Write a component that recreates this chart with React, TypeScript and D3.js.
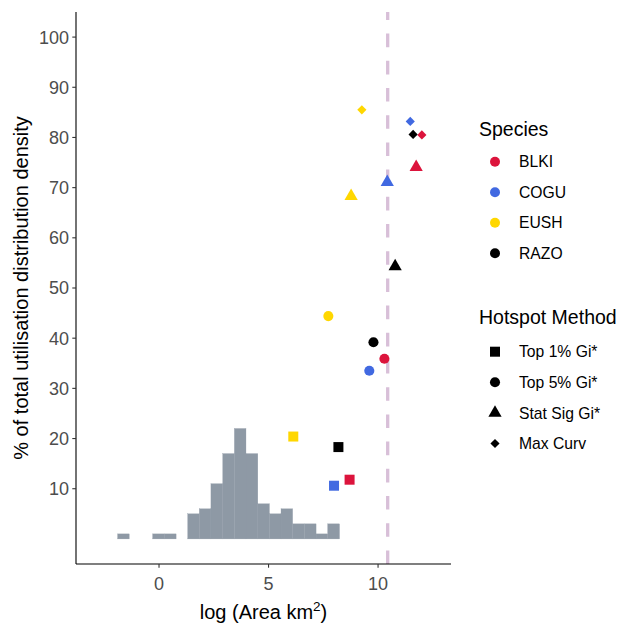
import React from "react";
import * as d3 from "d3";

// ---- data ----
const species = ["BLKI", "COGU", "EUSH", "RAZO"];
const methods = ["Top 1% Gi*", "Top 5% Gi*", "Stat Sig Gi*", "Max Curv"];

// per method, values in species order (BLKI, COGU, EUSH, RAZO)
const top1LogArea = [8.7, 7.99, 6.13, 8.19];
const top1Pct = [11.8, 10.6, 20.4, 18.3];
const top5LogArea = [10.29, 9.6, 7.73, 9.79];
const top5Pct = [35.9, 33.5, 44.4, 39.2];
const statSigLogArea = [11.74, 10.42, 8.77, 10.78];
const statSigPct = [74.1, 71.1, 68.3, 54.3];
const maxCurvLogArea = [12.0, 11.47, 9.26, 11.6];
const maxCurvPct = [80.5, 83.2, 85.5, 80.6];

const thresholdLogArea = 10.44;

// histogram of log(area) – bin edges and counts
const histEdges = [-1.89, -1.36, -0.82, -0.29, 0.24, 0.78, 1.31, 1.84, 2.37, 2.91, 3.44, 3.97, 4.51, 5.04, 5.57, 6.1, 6.64, 7.17, 7.7, 8.24];
const histCounts = [1, 0, 0, 1, 1, 0, 5, 6, 11, 17, 22, 17, 7, 5, 6, 3, 3, 1, 3];

const xTicks = [0, 5, 10];
const yTicks = [10, 20, 30, 40, 50, 60, 70, 80, 90, 100];

// ---- styles ----
const speciesColor: Record<string, string> = {
  BLKI: "#DC143C",
  COGU: "#4169E1",
  EUSH: "#FFD700",
  RAZO: "#000000",
};

const W = 621;
const H = 626;
const left = 76;
const right = 451;
const top = 12;
const bottom = 564;

const x = d3.scaleLinear().domain([-3.79, 13.33]).range([left, right]);
const y = d3.scaleLinear().domain([-5, 105]).range([bottom, top]);

const symbolPath: Record<string, string> = {
  "Top 1% Gi*": d3.symbol().type(d3.symbolSquare).size(100)()!,
  "Top 5% Gi*": d3.symbol().type(d3.symbolCircle).size(80)()!,
  "Stat Sig Gi*": d3.symbol().type(d3.symbolTriangle).size(76)()!,
  "Max Curv": d3.symbol().type(d3.symbolSquare).size(42)()!,
};
const symbolRot: Record<string, number> = {
  "Top 1% Gi*": 0,
  "Top 5% Gi*": 0,
  "Stat Sig Gi*": 0,
  "Max Curv": 45,
};

const methodData: Record<string, [number[], number[]]> = {
  "Top 1% Gi*": [top1LogArea, top1Pct],
  "Top 5% Gi*": [top5LogArea, top5Pct],
  "Stat Sig Gi*": [statSigLogArea, statSigPct],
  "Max Curv": [maxCurvLogArea, maxCurvPct],
};

const font = "'Liberation Sans', Arial, sans-serif";

export default function App() {
  const points: { sp: string; m: string; a: number; p: number }[] = [];
  methods.forEach((m) => {
    const [areas, pcts] = methodData[m];
    species.forEach((sp, i) => points.push({ sp, m, a: areas[i], p: pcts[i] }));
  });

  return (
    <svg
      width={W}
      height={H}
      style={{ position: "absolute", left: 0, top: 0, background: "#fff" }}
      fontFamily={font}
    >
      <rect x={0} y={0} width={W} height={H} fill="#fff" />
      {/* histogram */}
      <g>
        {histCounts.map((c, i) =>
          c > 0 ? (
            <rect
              key={i}
              x={x(histEdges[i])}
              y={y(c)}
              width={x(histEdges[i + 1]) - x(histEdges[i])}
              height={y(0) - y(c)}
              fill="#8E99A5"
              stroke="#8E99A5"
              strokeWidth={0.3}
            />
          ) : null
        )}
      </g>
      {/* threshold line */}
      <line
        x1={x(thresholdLogArea)}
        x2={x(thresholdLogArea)}
        y1={bottom}
        y2={top}
        stroke="#D8BFD8"
        strokeWidth={3.3}
        strokeDasharray="13.6 13.6"
      />
      {/* points */}
      <g>
        {points.map((d, i) => (
          <path
            key={i}
            d={symbolPath[d.m]}
            transform={`translate(${x(d.a)},${y(d.p)}) rotate(${symbolRot[d.m]})`}
            fill={speciesColor[d.sp]}
          />
        ))}
      </g>
      {/* axes */}
      <line x1={left} x2={left} y1={top} y2={bottom} stroke="#000" strokeWidth={1.1} />
      <line x1={left} x2={right} y1={bottom} y2={bottom} stroke="#000" strokeWidth={1.1} />
      {yTicks.map((t) => (
        <g key={t}>
          <line x1={left - 3.7} x2={left} y1={y(t)} y2={y(t)} stroke="#333" strokeWidth={1.1} />
          <text x={left - 7} y={y(t)} dy="0.36em" textAnchor="end" fontSize={18} fill="#4D4D4D">
            {t}
          </text>
        </g>
      ))}
      {xTicks.map((t) => (
        <g key={t}>
          <line x1={x(t)} x2={x(t)} y1={bottom} y2={bottom + 3.7} stroke="#333" strokeWidth={1.1} />
          <text x={x(t)} y={590} textAnchor="middle" fontSize={18} fill="#4D4D4D">
            {t}
          </text>
        </g>
      ))}
      {/* axis titles */}
      <text x={(left + right) / 2} y={619} textAnchor="middle" fontSize={20} fill="#000">
        log (Area km<tspan dy={-8} fontSize={13.5}>2</tspan>
        <tspan dy={8}>)</tspan>
      </text>
      <text
        transform={`translate(28,${(top + bottom) / 2}) rotate(-90)`}
        textAnchor="middle"
        fontSize={20}
        fill="#000"
      >
        % of total utilisation distribution density
      </text>
      {/* legend: species */}
      <text x={479} y={136} fontSize={19.5} fill="#000">
        Species
      </text>
      {species.map((sp, i) => {
        const ly = 161.7 + i * 30.5;
        return (
          <g key={sp}>
            <circle cx={495} cy={ly} r={5} fill={speciesColor[sp]} />
            <text x={519} y={ly} dy="0.36em" fontSize={15.7} fill="#000">
              {sp}
            </text>
          </g>
        );
      })}
      {/* legend: hotspot method */}
      <text x={479} y={324} fontSize={19.5} fill="#000">
        Hotspot Method
      </text>
      {methods.map((m, i) => {
        const ly = 351.7 + i * 30.6;
        return (
          <g key={m}>
            <path d={symbolPath[m]} transform={`translate(495,${ly}) rotate(${symbolRot[m]})`} fill="#000" />
            <text x={519} y={ly} dy="0.36em" fontSize={15.7} fill="#000">
              {m}
            </text>
          </g>
        );
      })}
    </svg>
  );
}
